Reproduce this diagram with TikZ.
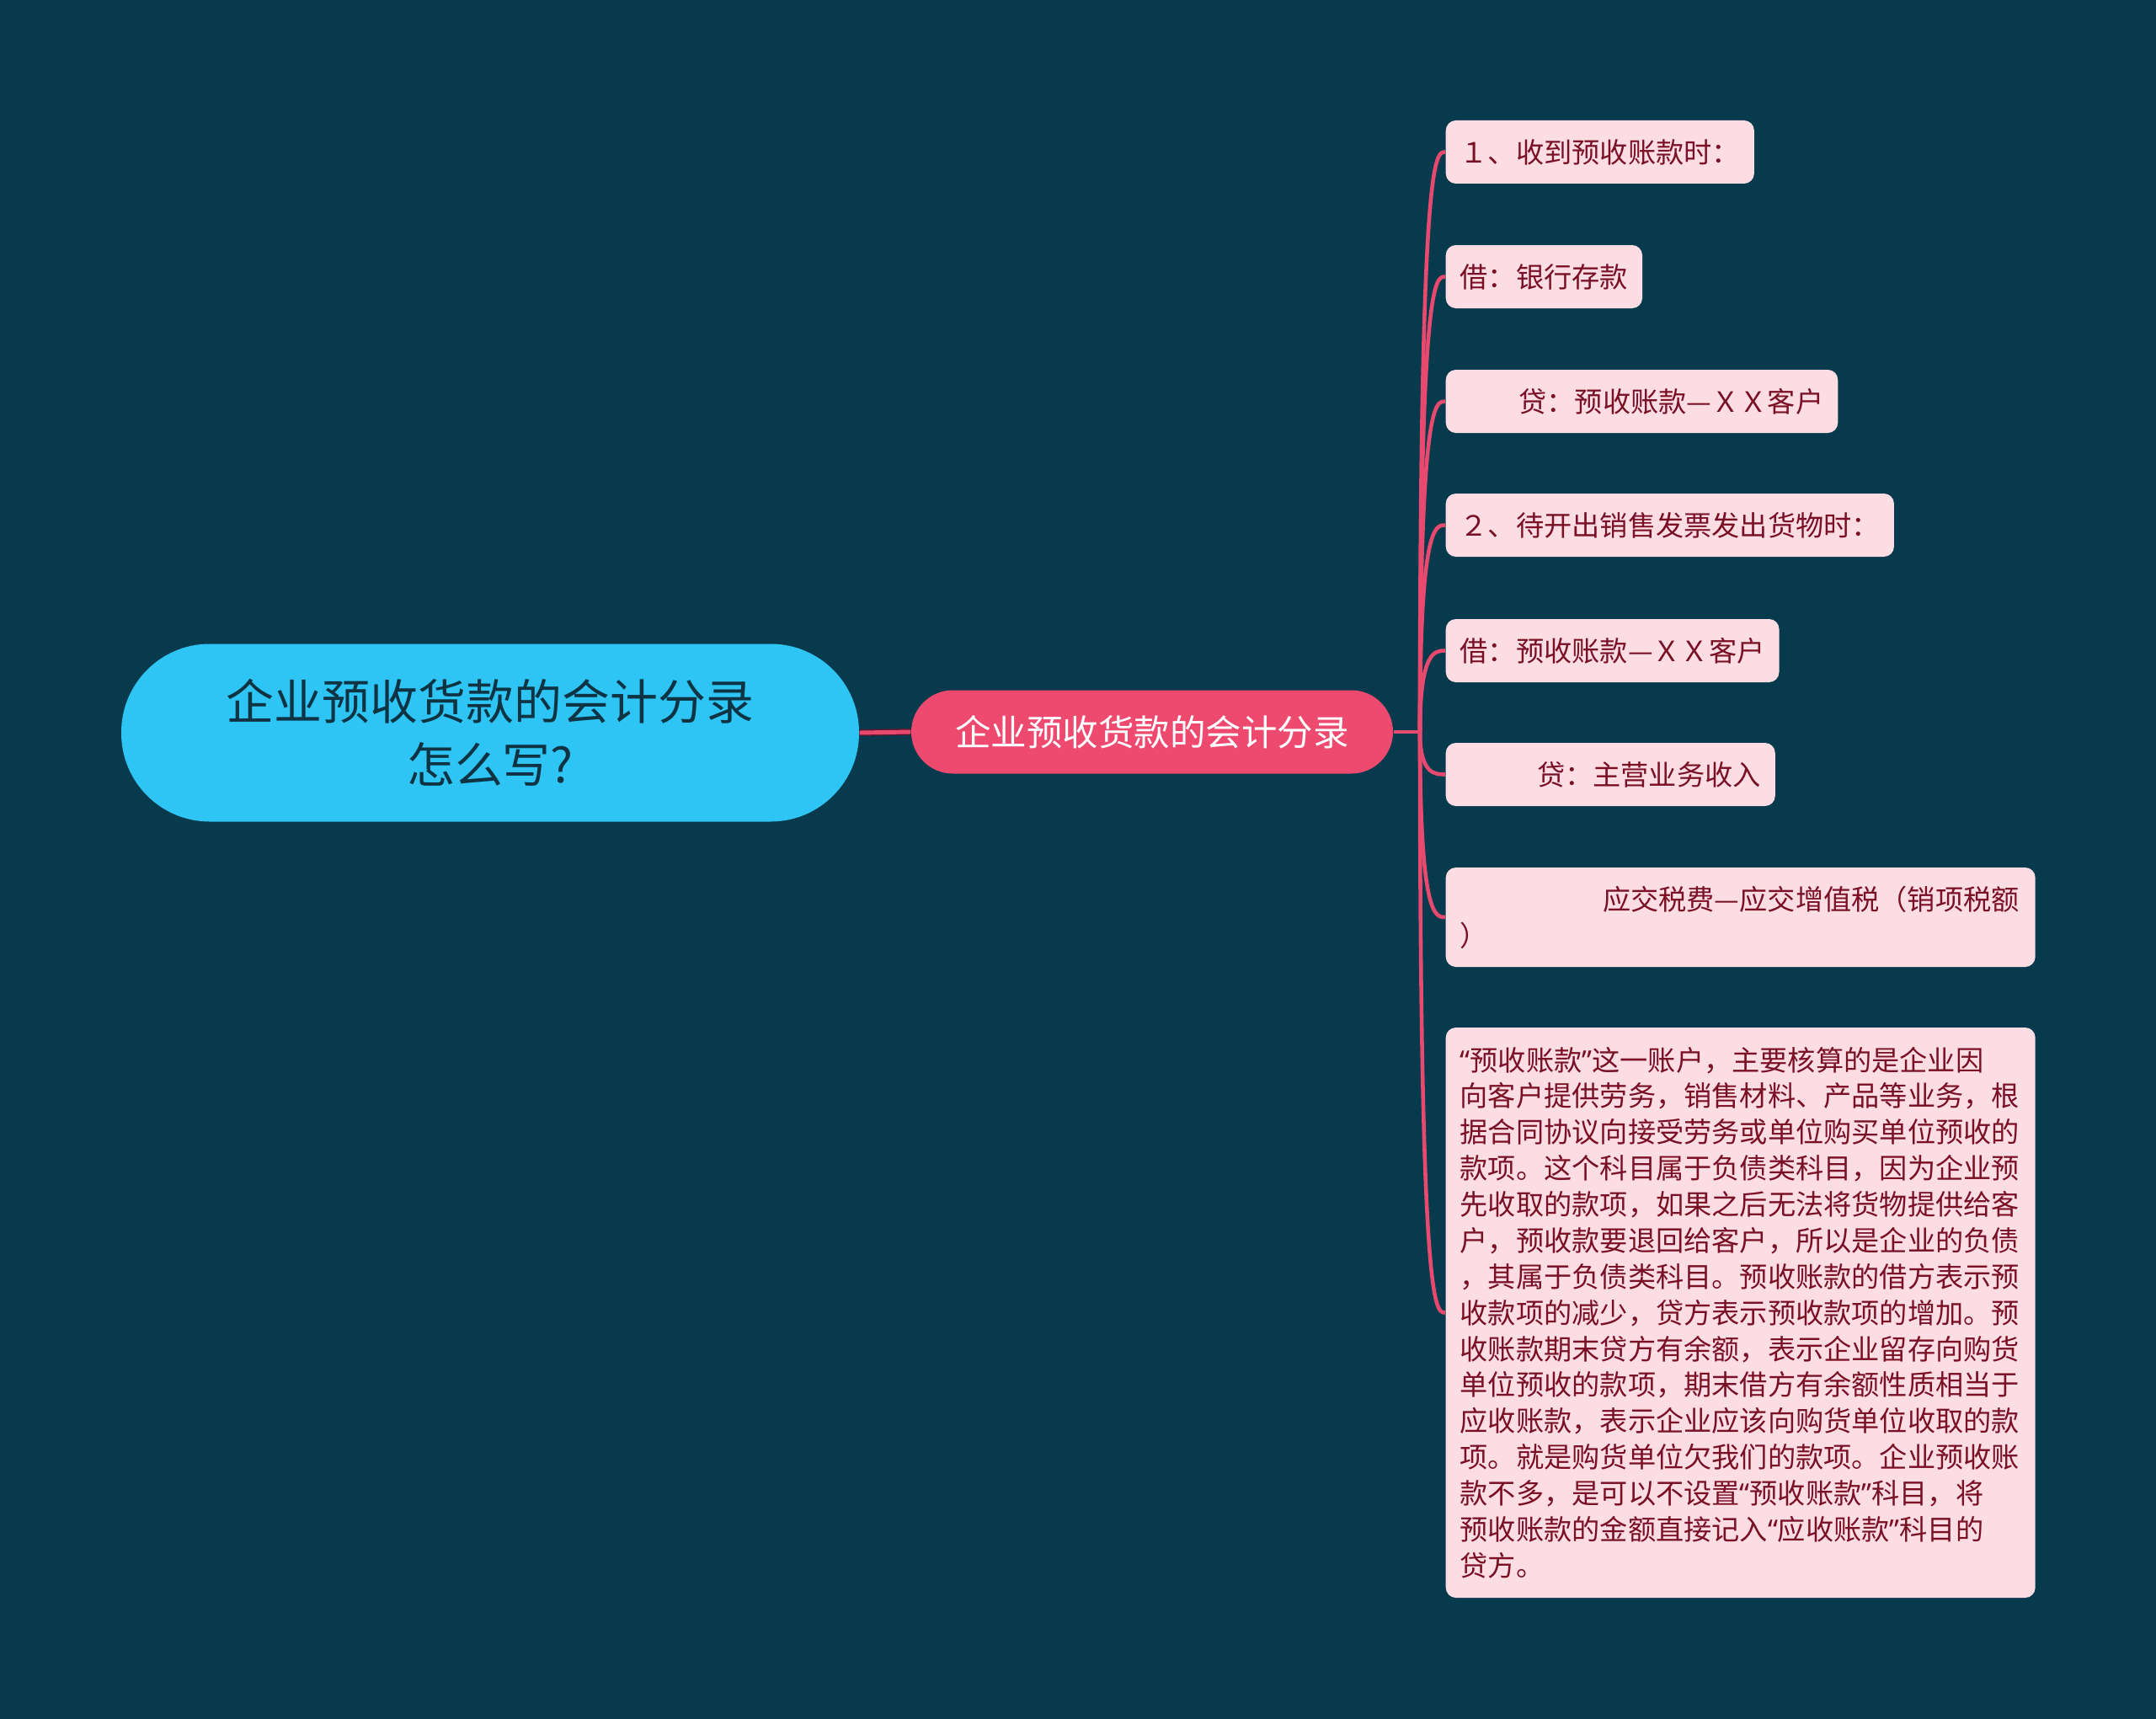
\documentclass[tikz,border=0pt]{standalone}
\usepackage{fontspec}
\setmainfont{Noto Sans CJK SC}
\newfontfamily\quotefont{Noto Sans}
\usetikzlibrary{positioning}

\definecolor{bgteal}{HTML}{083A4D}
\definecolor{rootcyan}{HTML}{2EC4F4}
\definecolor{rootink}{HTML}{0E3444}
\definecolor{topicred}{HTML}{EE4A70}
\definecolor{leafpink}{HTML}{FCDDE3}
\definecolor{leafink}{HTML}{7A1026}
\definecolor{linkred}{HTML}{E8496F}
\definecolor{linkedge}{HTML}{5A1A30}

\newcommand{\openq}{{\quotefont “}}
\newcommand{\closeq}{{\quotefont ”}}

\begin{document}
\begin{tikzpicture}[
	root topic/.style={fill=rootcyan, text=rootink, rounded corners=1.05cm,
		minimum width=8.76cm, minimum height=2.11cm, align=center,
		font=\fontsize{16.2pt}{21.3pt}\selectfont},
	main topic/.style={fill=topicred, text=white, rounded corners=0.495cm,
		minimum width=5.72cm, minimum height=0.99cm,
		font=\fontsize{12.1pt}{14pt}\selectfont},
	leaf/.style={fill=leafpink, text=leafink, rounded corners=0.12cm,
		anchor=west, inner xsep=0.17cm, inner ysep=0pt, minimum height=0.75cm,
		align=left, font=\fontsize{9.45pt}{12.2pt}\selectfont},
	long leaf/.style={leaf, text width=6.66cm},
	link/.style={linkred, line width=1.3pt},
	]
	% canvas
	\fill[bgteal] (0,0) rectangle (25.6,-20.41);
	\useasboundingbox (0,0) rectangle (25.6,-20.41);
	% topics
	\node[root topic] (root) at (5.82,-8.70) {企业预收货款的会计分录\\怎么写?};
	\node[main topic] (entry) at (13.68,-8.69) {企业预收货款的会计分录};
	\coordinate (hub) at (16.86,-8.69);
	% leaves
	\node[leaf] (recv) at (17.16,-1.805) {１、收到预收账款时：};
	\node[leaf] (bank) at (17.16,-3.285) {借：银行存款};
	\node[leaf] (advcr) at (17.16,-4.765) {\hspace*{2.1em}贷：预收账款—ＸＸ客户};
	\node[leaf] (ship) at (17.16,-6.235) {２、待开出销售发票发出货物时：};
	\node[leaf] (advdr) at (17.16,-7.725) {借：预收账款—ＸＸ客户};
	\node[leaf] (sales) at (17.16,-9.195) {\hspace*{2.75em}贷：主营业务收入};
	\node[long leaf, minimum height=1.18cm] (vat) at (17.16,-10.89)
	{\hspace*{5.1em}应交税费—应交增值税（销项税额\\）};
	\node[long leaf, minimum height=6.77cm] (note) at (17.16,-15.585)
	{\openq 预收账款\closeq 这一账户，主要核算的是企业因\\
		向客户提供劳务，销售材料、产品等业务，根\\
		据合同协议向接受劳务或单位购买单位预收的\\
		款项。这个科目属于负债类科目，因为企业预\\
		先收取的款项，如果之后无法将货物提供给客\\
		户，预收款要退回给客户，所以是企业的负债\\
		，其属于负债类科目。预收账款的借方表示预\\
		收款项的减少，贷方表示预收款项的增加。预\\
		收账款期末贷方有余额，表示企业留存向购货\\
		单位预收的款项，期末借方有余额性质相当于\\
		应收账款，表示企业应该向购货单位收取的款\\
		项。就是购货单位欠我们的款项。企业预收账\\
		款不多，是可以不设置\openq 预收账款\closeq 科目，将\\
		预收账款的金额直接记入\openq 应收账款\closeq 科目的\\
		贷方。};
	% links
	\draw[linkedge, line width=2.3pt] (root.east) -- (entry.west);
	\draw[link, line width=1.4pt] (root.east) -- (entry.west);
	\draw[link] (entry.east) -- (hub);
	\foreach \leafname in {recv,bank,advcr,ship,advdr,sales,vat,note}
	\draw[link] (hub) .. controls (hub |- \leafname.west) and ([xshift=-0.12cm]\leafname.west) .. (\leafname.west);
\end{tikzpicture}
\end{document}
